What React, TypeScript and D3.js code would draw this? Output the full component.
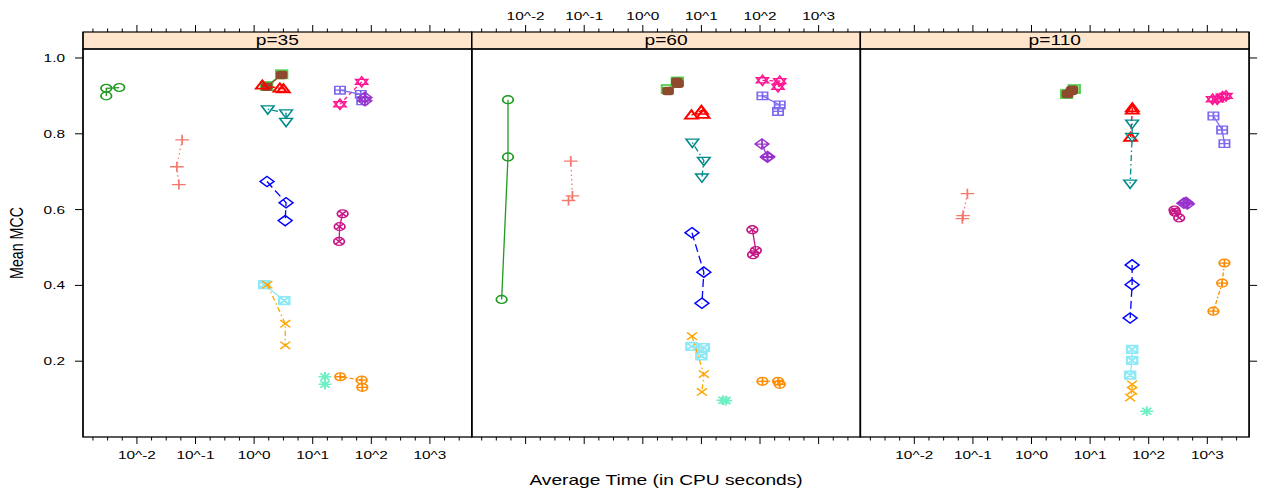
import React from "react";
import * as d3 from "d3";

const PANEL_LABELS = ["p=35", "p=60", "p=110"];
const X_TICK_POWERS = [-2, -1, 0, 1, 2, 3];
const X_TICK_LABELS = ["10^-2", "10^-1", "10^0", "10^1", "10^2", "10^3"];
const Y_TICKS = [0.2, 0.4, 0.6, 0.8, 1.0];
const Y_TICK_LABELS = ["0.2", "0.4", "0.6", "0.8", "1.0"];
const X_TITLE = "Average Time (in CPU seconds)";
const Y_TITLE = "Mean MCC";

// each row: [panel index, average time (s), mean MCC]
const greenCircle = [
  [0, 0.0030, 0.900], [0, 0.0030, 0.920], [0, 0.0050, 0.922],
  [1, 0.0050, 0.890], [1, 0.0050, 0.739], [1, 0.0039, 0.363],
];
const salmonPlus = [
  [0, 0.059, 0.784], [0, 0.048, 0.713], [0, 0.052, 0.666],
  [1, 0.059, 0.728], [1, 0.063, 0.636], [1, 0.054, 0.624],
  [2, 0.0805, 0.642], [2, 0.066, 0.576], [2, 0.068, 0.584],
];
const greenSquare = [
  [0, 1.64, 0.926], [0, 2.95, 0.957],
  [1, 2.63, 0.918], [1, 3.89, 0.938],
  [2, 3.98, 0.905], [2, 5.37, 0.918],
];
const brownSolid = [
  [0, 1.64, 0.924], [0, 2.95, 0.955],
  [1, 2.69, 0.913], [1, 3.98, 0.932], [1, 3.80, 0.937],
  [2, 4.1, 0.905], [2, 4.79, 0.913], [2, 5.0, 0.916],
];
const redTriangle = [
  [0, 1.38, 0.928], [0, 2.75, 0.920], [0, 3.16, 0.918],
  [1, 6.76, 0.849], [1, 10.0, 0.861], [1, 10.7, 0.851],
  [2, 52.5, 0.868], [2, 52.5, 0.862], [2, 49.0, 0.790],
];
const tealTriangleDown = [
  [0, 1.71, 0.865], [0, 3.51, 0.854], [0, 3.51, 0.832],
  [1, 7.0, 0.777], [1, 11.0, 0.729], [1, 10.2, 0.685],
  [2, 52.1, 0.827], [2, 52.1, 0.792], [2, 48.2, 0.669],
];
const blueDiamond = [
  [0, 1.66, 0.674], [0, 3.51, 0.618], [0, 3.39, 0.571],
  [1, 6.9, 0.539], [1, 11.0, 0.435], [1, 10.2, 0.353],
  [2, 52.1, 0.454], [2, 52.1, 0.402], [2, 48.2, 0.314],
];
const cyanSquareCross = [
  [0, 1.49, 0.402], [0, 3.27, 0.360],
  [1, 6.76, 0.239], [1, 11.0, 0.236], [1, 10.0, 0.214],
  [2, 52.1, 0.231], [2, 52.1, 0.202], [2, 48.2, 0.163],
];
const orangeCross = [
  [0, 1.68, 0.402], [0, 3.40, 0.299], [0, 3.40, 0.242],
  [1, 6.9, 0.266], [1, 11.0, 0.166], [1, 10.2, 0.119],
  [2, 52.1, 0.139], [2, 52.1, 0.122], [2, 48.2, 0.104],
];
const aquaAsterisk = [
  [0, 16.2, 0.159], [0, 16.2, 0.139],
  [1, 23.4, 0.097], [1, 26.0, 0.096],
  [2, 92.5, 0.068],
];
const orangeCirclePlus = [
  [0, 29.5, 0.159], [0, 68.5, 0.150], [0, 70.1, 0.131],
  [1, 110, 0.147], [1, 203, 0.147], [1, 217, 0.139],
  [2, 1959, 0.459], [2, 1791, 0.406], [2, 1271, 0.332],
];
const violetCircleCross = [
  [0, 32.4, 0.589], [0, 28.8, 0.555], [0, 28.2, 0.516],
  [1, 74, 0.547], [1, 85, 0.492], [1, 76, 0.481],
  [2, 275, 0.599], [2, 282, 0.593], [2, 331, 0.578],
];
const pinkStar = [
  [0, 68.5, 0.937], [0, 29.2, 0.878],
  [1, 110, 0.941], [1, 217, 0.939], [1, 203, 0.924],
  [2, 1230, 0.891], [2, 1479, 0.891], [2, 1820, 0.898], [2, 2089, 0.900],
];
const slateSquarePlus = [
  [0, 29.2, 0.915], [0, 66.1, 0.904], [0, 70.1, 0.887],
  [1, 110, 0.900], [1, 217, 0.876], [1, 203, 0.859],
  [2, 1271, 0.847], [2, 1791, 0.810], [2, 1959, 0.774],
];
const orchidDiamondPlus = [
  [0, 77.6, 0.896], [0, 77.6, 0.887],
  [1, 108, 0.773], [1, 134, 0.738], [1, 135, 0.740],
  [2, 398, 0.617], [2, 434, 0.619], [2, 457, 0.615],
];

const SERIES = [
  { data: greenCircle, color: "#1f9a1f", pch: "circle", dash: null },
  { data: salmonPlus, color: "#f47a6e", pch: "plus", dash: "1.5 3" },
  { data: greenSquare, color: "#4fd34f", pch: "square", dash: null },
  { data: brownSolid, color: "#8e4a2c", pch: "filled", dash: null },
  { data: redTriangle, color: "#ff0000", pch: "triUp", dash: "5 3" },
  { data: tealTriangleDown, color: "#008b8b", pch: "triDown", dash: "1.5 3 6 3" },
  { data: blueDiamond, color: "#0000ff", pch: "diamond", dash: "8 4" },
  { data: cyanSquareCross, color: "#8ee8f5", pch: "squareX", dash: null },
  { data: orangeCross, color: "#ffa500", pch: "x", dash: "5 3 1.5 3" },
  { data: aquaAsterisk, color: "#6ff0c4", pch: "asterisk", dash: null },
  { data: orangeCirclePlus, color: "#ff8c00", pch: "circlePlus", dash: "4 2 1.5 2" },
  { data: violetCircleCross, color: "#c71585", pch: "circleX", dash: null },
  { data: pinkStar, color: "#ff1493", pch: "star", dash: "4 3" },
  { data: slateSquarePlus, color: "#7b68ee", pch: "squarePlus", dash: null },
  { data: orchidDiamondPlus, color: "#9932cc", pch: "diamondPlus", dash: null },
];

const W = 1262;
const H = 496;
const PANEL_LEFT = 83;
const PANEL_W = 388.7;
const STRIP_TOP = 32;
const PLOT_TOP = 49;
const PLOT_BOTTOM = 437;
const SX = 1.35; // horizontal stretch of the original device
const MK = 1.12; // marker scale
const FONT = "'Liberation Sans', Arial, Helvetica, sans-serif";

function Marker({ pch, color, x, y }: any) {
  const sw = 1.15;
  const common = { fill: "none", stroke: color, strokeWidth: sw };
  let inner: any = null;
  const r = 3.5;
  switch (pch) {
    case "circle":
      inner = <circle r={r} {...common} />;
      break;
    case "plus":
      inner = <path d={`M-4.5,0H4.5M0,-4.5V4.5`} {...common} />;
      break;
    case "square":
      inner = <rect x={-3.6} y={-3.6} width={7.2} height={7.2} {...common} strokeWidth={1.6} />;
      break;
    case "filled":
      inner = <rect x={-3.8} y={-3.8} width={7.6} height={7.6} rx={2} fill={color} stroke="none" />;
      break;
    case "triUp":
      inner = <path d="M0,-4.4L4.2,3L-4.2,3Z" {...common} strokeWidth={1.5} />;
      break;
    case "triDown":
      inner = <path d="M0,4.4L4.2,-3L-4.2,-3Z" {...common} />;
      break;
    case "diamond":
      inner = <path d="M0,-4.6L4.6,0L0,4.6L-4.6,0Z" {...common} />;
      break;
    case "squareX":
      inner = <path d="M-3.4,-3.4H3.4V3.4H-3.4ZM-3.4,-3.4L3.4,3.4M3.4,-3.4L-3.4,3.4" {...common} strokeWidth={1.5} />;
      break;
    case "x":
      inner = <path d="M-3.3,-3.3L3.3,3.3M3.3,-3.3L-3.3,3.3" {...common} />;
      break;
    case "asterisk":
      inner = <path d="M-4.3,0H4.3M0,-4.3V4.3M-3.1,-3.1L3.1,3.1M3.1,-3.1L-3.1,3.1" {...common} strokeWidth={1.4} />;
      break;
    case "circlePlus":
      inner = (
        <g>
          <circle r={r} {...common} />
          <path d={`M-${r},0H${r}M0,-${r}V${r}`} {...common} />
        </g>
      );
      break;
    case "circleX":
      inner = (
        <g>
          <circle r={r} {...common} />
          <path d="M-2.5,-2.5L2.5,2.5M2.5,-2.5L-2.5,2.5" {...common} />
        </g>
      );
      break;
    case "star":
      inner = <path d="M0,-4.6L4,2.3L-4,2.3ZM0,4.6L4,-2.3L-4,-2.3Z" {...common} />;
      break;
    case "squarePlus":
      inner = <path d="M-3.4,-3.4H3.4V3.4H-3.4ZM-3.4,0H3.4M0,-3.4V3.4" {...common} />;
      break;
    case "diamondPlus":
      inner = <path d="M0,-4.6L4.6,0L0,4.6L-4.6,0ZM-4.6,0H4.6M0,-4.6V4.6" {...common} />;
      break;
  }
  return <g transform={`translate(${x},${y}) scale(${SX * MK},${MK})`}>{inner}</g>;
}

function StretchText({ x, y, anchor, size, children, rotate }: any) {
  const tf = rotate
    ? `translate(${x},${y}) rotate(-90) scale(1,${SX})`
    : `translate(${x},${y}) scale(${SX},1)`;
  return (
    <text transform={tf} textAnchor={anchor} fontSize={size} fontFamily={FONT} fill="#000">
      {children}
    </text>
  );
}

export default function App() {
  const yScale = d3.scaleLinear().domain([0, 1.0237]).range([PLOT_BOTTOM, PLOT_TOP]);
  const xLogMin = -2.92;
  const xLogMax = 3.713;
  const panels = PANEL_LABELS.map((label, i) => {
    const left = PANEL_LEFT + i * PANEL_W;
    const x = d3
      .scaleLog()
      .domain([Math.pow(10, xLogMin), Math.pow(10, xLogMax)])
      .range([left, left + PANEL_W]);
    return { label, i, left, x };
  });

  const minorPowers = d3.range(-2.75, 3.51, 0.25);
  const line = d3.line();

  return (
    <svg
      width={W}
      height={H}
      style={{ position: "absolute", left: 0, top: 0, background: "#fff" }}
    >
      <rect width={W} height={H} fill="#fff" />
      {panels.map((p) => {
        const right = p.left + PANEL_W;
        const showBottom = p.i !== 1;
        const showTop = p.i === 1;
        return (
          <g key={p.label}>
            <rect x={p.left} y={STRIP_TOP} width={PANEL_W} height={PLOT_TOP - STRIP_TOP} fill="#ffe5cc" stroke="#000" strokeWidth={1.2} />
            <StretchText x={p.left + PANEL_W / 2} y={PLOT_TOP - 4} anchor="middle" size={14.2}>
              {p.label}
            </StretchText>
            {minorPowers.map((m) => {
              const xx = p.x(Math.pow(10, m));
              const major = Math.abs(m - Math.round(m)) < 1e-6;
              const len = major ? 7 : 3.5;
              return (
                <g key={m}>
                  <line x1={xx} x2={xx} y1={PLOT_BOTTOM} y2={PLOT_BOTTOM + len} stroke="#000" strokeWidth={1} />
                  <line x1={xx} x2={xx} y1={STRIP_TOP} y2={STRIP_TOP - len} stroke="#000" strokeWidth={1} />
                </g>
              );
            })}
            {showBottom &&
              X_TICK_POWERS.map((pw, k) => (
                <StretchText key={pw} x={p.x(Math.pow(10, pw))} y={PLOT_BOTTOM + 22} anchor="middle" size={11.4}>
                  {X_TICK_LABELS[k]}
                </StretchText>
              ))}
            {showTop &&
              X_TICK_POWERS.map((pw, k) => (
                <StretchText key={pw} x={p.x(Math.pow(10, pw))} y={STRIP_TOP - 12} anchor="middle" size={11.4}>
                  {X_TICK_LABELS[k]}
                </StretchText>
              ))}
            {SERIES.map((s, si) => {
              const pts = s.data.filter((d) => d[0] === p.i).map((d) => [p.x(d[1]), yScale(d[2])] as [number, number]);
              return (
                <g key={si}>
                  {pts.length > 1 && (
                    <path d={line(pts) || ""} fill="none" stroke={s.color} strokeWidth={1.3} strokeDasharray={s.dash || undefined} />
                  )}
                  {pts.map((pt, k) => (
                    <Marker key={k} pch={s.pch} color={s.color} x={pt[0]} y={pt[1]} />
                  ))}
                </g>
              );
            })}
            <rect x={p.left} y={PLOT_TOP} width={PANEL_W} height={PLOT_BOTTOM - PLOT_TOP} fill="none" stroke="#000" strokeWidth={1.3} />
            <line x1={p.left} x2={p.left} y1={STRIP_TOP} y2={PLOT_BOTTOM} stroke="#000" strokeWidth={1.3} />
            <line x1={right} x2={right} y1={STRIP_TOP} y2={PLOT_BOTTOM} stroke="#000" strokeWidth={1.3} />
          </g>
        );
      })}
      {Y_TICKS.map((v, k) => (
        <g key={v}>
          <line x1={PANEL_LEFT - 8} x2={PANEL_LEFT} y1={yScale(v)} y2={yScale(v)} stroke="#000" strokeWidth={1} />
          <line
            x1={PANEL_LEFT + 3 * PANEL_W}
            x2={PANEL_LEFT + 3 * PANEL_W + 8}
            y1={yScale(v)}
            y2={yScale(v)}
            stroke="#000"
            strokeWidth={1}
          />
          <StretchText x={65} y={yScale(v) + 4} anchor="end" size={11.4}>
            {Y_TICK_LABELS[k]}
          </StretchText>
        </g>
      ))}
      <StretchText x={PANEL_LEFT + 1.5 * PANEL_W} y={485} anchor="middle" size={14.2}>
        {X_TITLE}
      </StretchText>
      <StretchText x={23} y={(PLOT_TOP + PLOT_BOTTOM) / 2} anchor="middle" size={14.2} rotate>
        {Y_TITLE}
      </StretchText>
    </svg>
  );
}
